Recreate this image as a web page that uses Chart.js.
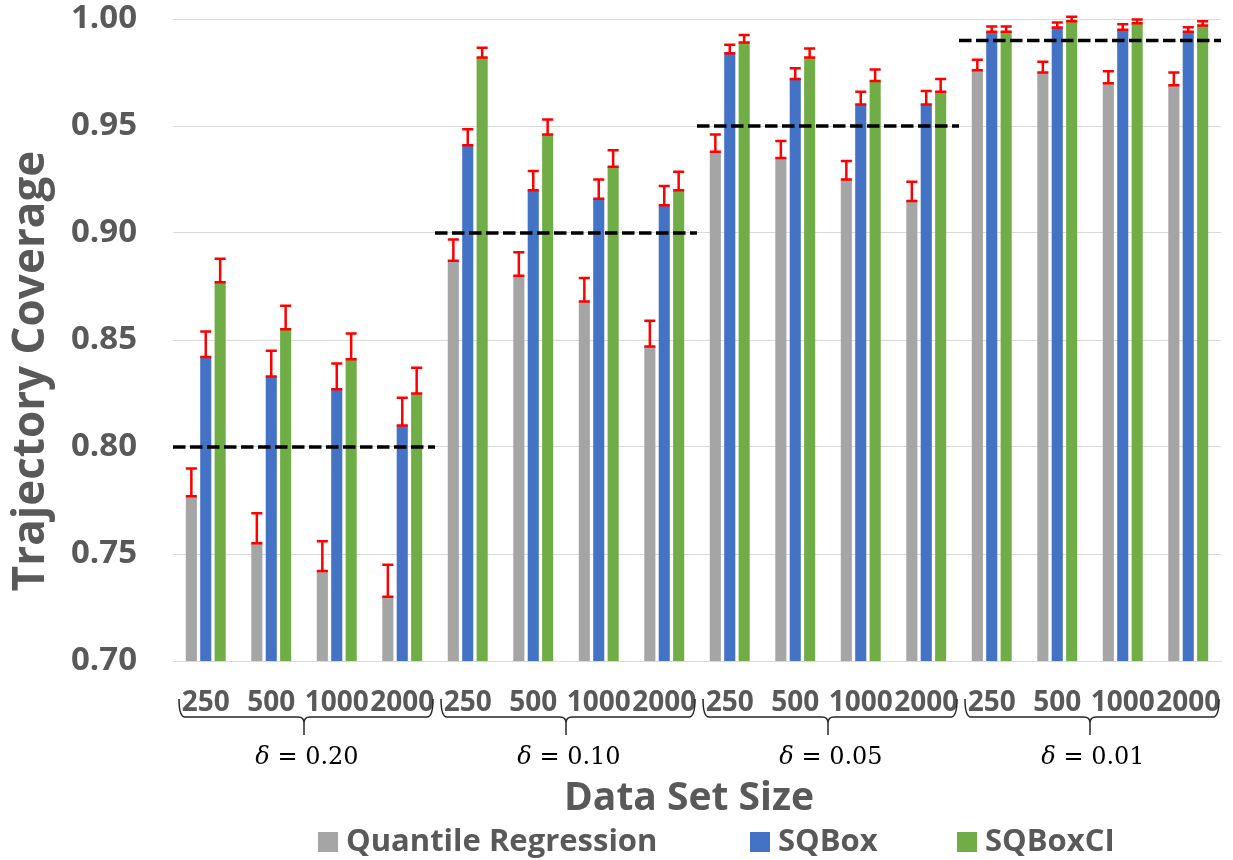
<!DOCTYPE html>
<html>
<head>
<meta charset="utf-8">
<title>Trajectory Coverage by Data Set Size</title>
<script src="https://cdn.jsdelivr.net/npm/chart.js@4.4.1/dist/chart.umd.min.js"></script>
<style>
  html, body { margin: 0; padding: 0; background: #ffffff; }
  #wrap { width: 1233px; height: 860px; }
</style>
</head>
<body>
<div id="wrap"><canvas id="chart" width="1233" height="860"></canvas></div>
<script>
// Data set sizes within each delta group
const sizes = ['250', '500', '1000', '2000'];
// Delta groups and their target coverage levels (1 - delta)
const deltas = ['0.20', '0.10', '0.05', '0.01'];
const targets = [0.80, 0.90, 0.95, 0.99];

// Mean coverage per method, ordered group by group
const quantileReg = [0.777, 0.755, 0.742, 0.730, 0.887, 0.880, 0.868, 0.847,
                     0.938, 0.935, 0.925, 0.915, 0.976, 0.975, 0.970, 0.969];
const sqBox       = [0.842, 0.833, 0.827, 0.810, 0.941, 0.920, 0.916, 0.913,
                     0.984, 0.972, 0.960, 0.960, 0.994, 0.996, 0.995, 0.994];
const sqBoxCI     = [0.877, 0.855, 0.841, 0.825, 0.982, 0.946, 0.931, 0.920,
                     0.989, 0.982, 0.971, 0.966, 0.994, 0.999, 0.998, 0.997];

// Upper error (plus direction) per method
const quantileRegErr = [0.013, 0.014, 0.014, 0.015, 0.010, 0.011, 0.011, 0.012,
                        0.008, 0.008, 0.0086, 0.009, 0.005, 0.005, 0.0056, 0.006];
const sqBoxErr       = [0.012, 0.012, 0.012, 0.013, 0.0075, 0.009, 0.009, 0.009,
                        0.004, 0.005, 0.006, 0.0064, 0.0025, 0.0024, 0.0026, 0.0022];
const sqBoxCIErr     = [0.011, 0.011, 0.012, 0.012, 0.0046, 0.007, 0.0077, 0.0086,
                        0.0035, 0.0042, 0.0054, 0.006, 0.0025, 0.002, 0.0018, 0.002];

const xTitle = 'Data Set Size';
const yTitle = 'Trajectory Coverage';

const labels = [];
deltas.forEach(() => sizes.forEach(s => labels.push(s)));

const TEXT = '#595959';
const SANS = '"Open Sans", Lato, sans-serif';

// Upper error bars with caps at both ends
const errorBars = {
  id: 'errorBars',
  afterDatasetsDraw(chart) {
    const ctx = chart.ctx;
    const y = chart.scales.y;
    ctx.save();
    ctx.strokeStyle = '#FF0000';
    ctx.lineWidth = 2.5;
    chart.data.datasets.forEach((ds, di) => {
      const meta = chart.getDatasetMeta(di);
      meta.data.forEach((bar, i) => {
        const v = ds.data[i];
        const top = y.getPixelForValue(v + ds.errors[i]);
        const base = y.getPixelForValue(v);
        const half = bar.width / 2;
        ctx.beginPath();
        ctx.moveTo(bar.x, base);
        ctx.lineTo(bar.x, top);
        ctx.moveTo(bar.x - half, top);
        ctx.lineTo(bar.x + half, top);
        ctx.moveTo(bar.x - half, base);
        ctx.lineTo(bar.x + half, base);
        ctx.stroke();
      });
    });
    ctx.restore();
  }
};

// Dashed target lines, group braces with delta labels, axis titles, legend
const decorations = {
  id: 'decorations',
  afterDraw(chart) {
    const ctx = chart.ctx;
    const x = chart.scales.x;
    const y = chart.scales.y;
    const n = sizes.length;
    ctx.save();

    // target lines
    ctx.strokeStyle = '#000000';
    ctx.lineWidth = 3.5;
    ctx.setLineDash([12.5, 4.5]);
    targets.forEach((t, g) => {
      const x0 = x.getPixelForValue(g * n - 0.5);
      const x1 = x.getPixelForValue(g * n + n - 0.5);
      const py = y.getPixelForValue(t);
      ctx.beginPath();
      ctx.moveTo(x0, py);
      ctx.lineTo(x1, py);
      ctx.stroke();
    });
    ctx.setLineDash([]);

    // braces under each group
    const yTop = 699, yLine = 717, yTip = 735, r = 6;
    ctx.strokeStyle = '#262626';
    ctx.lineWidth = 1.5;
    deltas.forEach((d, g) => {
      const gl = x.getPixelForValue(g * n - 0.5);
      const gr = x.getPixelForValue(g * n + n - 0.5);
      const x0 = gl + 6;
      const x1 = gr - 2;
      const cx = (gl + gr) / 2;
      ctx.beginPath();
      ctx.moveTo(x0, yTop);
      ctx.quadraticCurveTo(x0, yLine, x0 + r, yLine);
      ctx.lineTo(cx - r, yLine);
      ctx.quadraticCurveTo(cx, yLine, cx, yLine + r);
      ctx.lineTo(cx, yTip);
      ctx.moveTo(cx, yLine + r);
      ctx.quadraticCurveTo(cx, yLine, cx + r, yLine);
      ctx.lineTo(x1 - r, yLine);
      ctx.quadraticCurveTo(x1, yLine, x1, yTop);
      ctx.stroke();

      // delta label
      ctx.fillStyle = '#000000';
      ctx.textBaseline = 'middle';
      ctx.textAlign = 'left';
      const fItal = 'italic 24px "DejaVu Serif", serif';
      const fReg = '24px "DejaVu Serif", serif';
      const rest = ' = ' + d;
      ctx.font = fItal;
      const w1 = ctx.measureText('\u03B4').width;
      ctx.font = fReg;
      const w2 = ctx.measureText(rest).width;
      const sx = cx - (w1 + w2) / 2 + 3;
      ctx.font = fItal;
      ctx.fillText('\u03B4', sx, 758);
      ctx.font = fReg;
      ctx.fillText(rest, sx + w1, 758);
    });

    // axis titles
    ctx.fillStyle = TEXT;
    ctx.textAlign = 'center';
    ctx.textBaseline = 'middle';
    ctx.font = 'bold 39px ' + SANS;
    ctx.fillText(xTitle, 689, 799);
    ctx.save();
    ctx.translate(31, 371);
    ctx.rotate(-Math.PI / 2);
    ctx.font = 'bold 44px ' + SANS;
    ctx.fillText(yTitle, 0, 0);
    ctx.restore();

    // legend
    const starts = [318, 750, 957];
    const ly = 842;
    ctx.textAlign = 'left';
    ctx.font = 'bold 31px ' + SANS;
    chart.data.datasets.forEach((ds, i) => {
      ctx.fillStyle = ds.backgroundColor;
      ctx.fillRect(starts[i], ly - 10, 20, 20);
      ctx.fillStyle = TEXT;
      ctx.fillText(ds.label, starts[i] + 28, ly);
    });
    ctx.restore();
  }
};

new Chart(document.getElementById('chart'), {
  type: 'bar',
  data: {
    labels: labels,
    datasets: [
      { label: 'Quantile Regression', data: quantileReg, errors: quantileRegErr, backgroundColor: '#A5A5A5' },
      { label: 'SQBox', data: sqBox, errors: sqBoxErr, backgroundColor: '#4472C4' },
      { label: 'SQBoxCI', data: sqBoxCI, errors: sqBoxCIErr, backgroundColor: '#70AD47' }
    ]
  },
  options: {
    responsive: false,
    animation: false,
    devicePixelRatio: 1,
    layout: { padding: { left: 3, right: 12, top: 19, bottom: 36 } },
    datasets: { bar: { categoryPercentage: 0.66, barPercentage: 0.77 } },
    plugins: {
      legend: { display: false },
      tooltip: { enabled: false }
    },
    scales: {
      x: {
        grid: { display: false },
        border: { display: true, color: '#D9D9D9', width: 1 },
        ticks: {
          autoSkip: false, maxRotation: 0, padding: 17,
          color: TEXT, font: { family: SANS, size: 28, weight: 'bold' }
        },
        title: { display: false },
        afterFit(scale) {
          scale.height = 163;
          scale.paddingLeft = 0;
          scale.paddingRight = 0;
        }
      },
      y: {
        min: 0.70, max: 1.00,
        grid: { color: '#D9D9D9', drawTicks: false },
        border: { display: false },
        ticks: {
          stepSize: 0.05, padding: 36, color: TEXT,
          font: { family: SANS, size: 33, weight: 'bold' },
          callback: v => v.toFixed(2)
        },
        title: { display: false },
        afterFit(scale) {
          scale.width = 170;
          scale.paddingTop = 0;
          scale.paddingBottom = 0;
        }
      }
    }
  },
  plugins: [errorBars, decorations]
});
</script>
</body>
</html>
